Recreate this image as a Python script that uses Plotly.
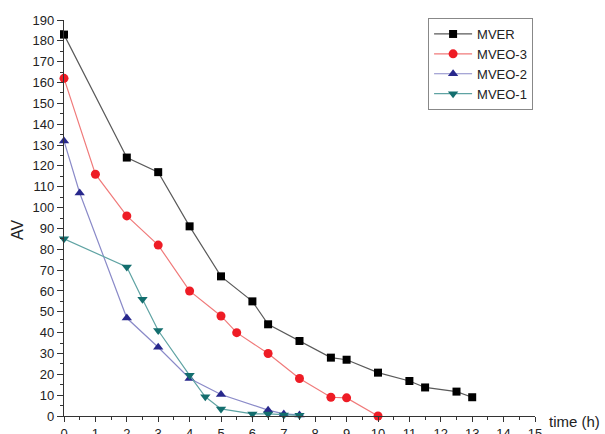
import plotly.graph_objects as go

# Data
mver_t = [0, 2, 3, 4, 5, 6, 6.5, 7.5, 8.5, 9, 10, 11, 11.5, 12.5, 13]
mver_av = [183, 124, 117, 91, 67, 55, 44, 36, 28, 27, 20.8, 16.8, 13.7, 11.7, 9]

mveo3_t = [0, 1, 2, 3, 4, 5, 5.5, 6.5, 7.5, 8.5, 9, 10]
mveo3_av = [162, 116, 96, 82, 60, 48, 40, 30, 18, 9, 8.7, 0]

mveo2_t = [0, 0.5, 2, 3, 4, 5, 6.5, 7, 7.5]
mveo2_av = [132, 107, 47, 33, 18, 10.3, 2.8, 1, 0.5]

mveo1_t = [0, 2, 2.5, 3, 4, 4.5, 5, 6, 6.5, 7, 7.5]
mveo1_av = [85, 71.5, 56, 41, 19.5, 9.2, 3.4, 1, 1, 0.5, 0.3]

x_ticks = list(range(0, 16))
y_ticks = list(range(0, 191, 10))

series = [
    ("MVER", mver_t, mver_av, "square", "#000000", "#5a5a5a", 8),
    ("MVEO-3", mveo3_t, mveo3_av, "circle", "#ee1c25", "#f07a7a", 9),
    ("MVEO-2", mveo2_t, mveo2_av, "triangle-up", "#28288c", "#8a8ac8", 9),
    ("MVEO-1", mveo1_t, mveo1_av, "triangle-down", "#136e6e", "#5fa3a3", 9),
]

fig = go.Figure()
for name, t, v, sym, mc, lc, ms in series:
    fig.add_trace(go.Scatter(
        x=t, y=v, name=name, mode="lines+markers",
        line=dict(color=lc, width=1.2),
        marker=dict(symbol=sym, color=mc, size=ms),
        cliponaxis=False,
    ))

font_family = "Liberation Sans, Arial, sans-serif"
fig.update_layout(
    width=605, height=434,
    margin=dict(l=64, r=70, t=20, b=18),
    paper_bgcolor="white", plot_bgcolor="white",
    font=dict(family=font_family, color="#222222", size=13),
    showlegend=True,
    legend=dict(
        x=0.773, y=1.005, xanchor="left", yanchor="top",
        bordercolor="#888888", borderwidth=1, bgcolor="white",
        font=dict(size=13, color="#222222"),
        tracegroupgap=0, itemwidth=38,
    ),
    xaxis=dict(
        range=[0, 15], tickmode="array", tickvals=x_ticks,
        ticktext=[str(x) for x in x_ticks],
        showgrid=False, zeroline=False, showline=True,
        linecolor="#333333", linewidth=1.2,
        ticks="outside", ticklen=5, tickwidth=1.2, tickcolor="#333333",
        minor=dict(dtick=0.5, ticks="outside", ticklen=3, tickcolor="#333333", showgrid=False),
        tickfont=dict(size=13), automargin=False, ticklabelstandoff=0,
    ),
    yaxis=dict(
        range=[0, 190], tickmode="array", tickvals=y_ticks,
        ticktext=[str(y) for y in y_ticks],
        showgrid=False, zeroline=False, showline=True,
        linecolor="#333333", linewidth=1.2,
        ticks="outside", ticklen=6, tickwidth=1.2, tickcolor="#333333",
        minor=dict(dtick=5, ticks="outside", ticklen=3, tickcolor="#333333", showgrid=False),
        tickfont=dict(size=13), automargin=False,
    ),
    annotations=[
        dict(text="time (h)", x=1.025, y=0, xref="paper", yref="paper",
             xanchor="left", yanchor="middle", yshift=-5, showarrow=False,
             font=dict(size=15, color="#222222")),
        dict(text="AV", x=0, y=0.47, xref="paper", yref="paper",
             xanchor="center", yanchor="middle", xshift=-46, textangle=-90,
             showarrow=False, font=dict(size=16, color="#222222")),
    ],
)

fig.write_html("out.html", config={"displayModeBar": False},
               post_script="document.body.style.margin='0';document.body.style.overflow='hidden';")
